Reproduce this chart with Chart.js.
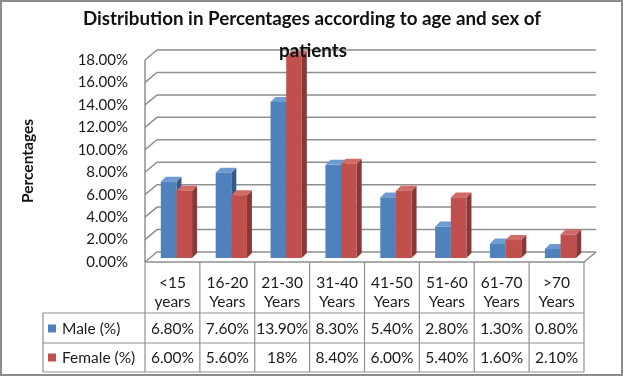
<!DOCTYPE html>
<html>
<head>
<meta charset="utf-8">
<script src="https://cdn.jsdelivr.net/npm/chart.js@4.4.1/dist/chart.umd.min.js"></script>
<style>
  html, body { margin: 0; padding: 0; background: #fff; }
  canvas { display: block; }
</style>
</head>
<body>
<canvas id="ageSexChart" width="623" height="376"></canvas>
<script>
var ageGroups = [['<15', 'years'], ['16-20', 'Years'], ['21-30', 'Years'], ['31-40', 'Years'], ['41-50', 'Years'], ['51-60', 'Years'], ['61-70', 'Years'], ['>70', 'Years']];
var maleValues = [6.8, 7.6, 13.9, 8.3, 5.4, 2.8, 1.3, 0.8];
var femaleValues = [6.0, 5.6, 18, 8.4, 6.0, 5.4, 1.6, 2.1];
var yTicks = [0, 2, 4, 6, 8, 10, 12, 14, 16, 18];
var titleLines = ['Distribution in Percentages according to age and sex of', 'patients'];
var seriesNames = ['Male (%)', 'Female (%)'];

var FONT = "Lato, 'Liberation Sans', sans-serif";
var GRID = '#8f8f8f';
var DEPTH_X = 12, DEPTH_Y = -10;   // wall depth
var BAR_SHIFT = 4, BAR_DEPTH = 5;  // bars sit inside the box

function pct(v) {
    // the source table writes the 18 as a plain "18%"
    if (v === 18) return '18%';
    return v.toFixed(2) + '%';
}

var threeD = {
    id: 'threeD',
    beforeDraw: function(chart) {
        var ctx = chart.ctx;
        ctx.save();
        ctx.fillStyle = '#fff';
        ctx.fillRect(0, 0, chart.width, chart.height);
        ctx.restore();
    },
    beforeDatasetsDraw: function(chart) {
        var ctx = chart.ctx, a = chart.chartArea, y = chart.scales.y;
        ctx.save();
        ctx.strokeStyle = GRID;
        ctx.lineWidth = 1.5;
        // back wall grid + left wall diagonals
        yTicks.forEach(function(t) {
            var py = y.getPixelForValue(t);
            ctx.beginPath();
            ctx.moveTo(a.left, py);
            ctx.lineTo(a.left + DEPTH_X, py + DEPTH_Y);
            ctx.lineTo(a.right + DEPTH_X, py + DEPTH_Y);
            ctx.stroke();
        });
        ctx.beginPath();
        ctx.moveTo(a.left, a.top);
        ctx.lineTo(a.left, a.bottom);
        ctx.stroke();
        // floor
        ctx.beginPath();
        ctx.moveTo(a.left, a.bottom);
        ctx.lineTo(a.right, a.bottom);
        ctx.lineTo(a.right + DEPTH_X, a.bottom + DEPTH_Y);
        ctx.stroke();

        var faces = [
            { front: '#4f81bd', side: '#37598a', top: '#6f9bd1' },
            { front: '#c0504d', side: '#8a3835', top: '#d06b68' }
        ];
        var n = chart.data.labels.length;
        for (var j = 0; j < n; j++) {
            for (var i = 0; i < chart.data.datasets.length; i++) {
                var el = chart.getDatasetMeta(i).data[j];
                var l = el.x - el.width / 2 + BAR_SHIFT;
                var r = el.x + el.width / 2 + BAR_SHIFT;
                var t = el.y - BAR_SHIFT;
                var b = el.base - BAR_SHIFT;
                var f = faces[i];
                ctx.fillStyle = f.side;
                ctx.beginPath();
                ctx.moveTo(r, t);
                ctx.lineTo(r + BAR_DEPTH, t - BAR_DEPTH);
                ctx.lineTo(r + BAR_DEPTH, b - BAR_DEPTH);
                ctx.lineTo(r, b);
                ctx.closePath();
                ctx.fill();
                ctx.fillStyle = f.top;
                ctx.beginPath();
                ctx.moveTo(l, t);
                ctx.lineTo(l + BAR_DEPTH, t - BAR_DEPTH);
                ctx.lineTo(r + BAR_DEPTH, t - BAR_DEPTH);
                ctx.lineTo(r, t);
                ctx.closePath();
                ctx.fill();
                ctx.fillStyle = f.front;
                ctx.fillRect(l, t, r - l, b - t);
            }
        }
        ctx.restore();
        return false;
    },
    afterDraw: function(chart) {
        var ctx = chart.ctx, a = chart.chartArea, x = chart.scales.x;
        var colW = (a.right - a.left) / ageGroups.length;
        var rowTop = a.bottom, rowMale = 313, rowFemale = 343, rowEnd = 372, legLeft = 43;
        ctx.save();
        ctx.strokeStyle = GRID;
        ctx.lineWidth = 1.2;
        ctx.beginPath();
        ctx.moveTo(legLeft, rowMale); ctx.lineTo(a.right, rowMale);
        ctx.moveTo(legLeft, rowFemale); ctx.lineTo(a.right, rowFemale);
        ctx.moveTo(legLeft, rowEnd); ctx.lineTo(a.right, rowEnd);
        ctx.moveTo(legLeft, rowMale); ctx.lineTo(legLeft, rowEnd);
        for (var k = 0; k <= ageGroups.length; k++) {
            var px = a.left + k * colW;
            ctx.moveTo(px, rowTop); ctx.lineTo(px, rowEnd);
        }
        ctx.stroke();

        ctx.fillStyle = '#1a1a1a';
        ctx.font = '15.5px ' + FONT;
        ctx.textAlign = 'center';
        ctx.textBaseline = 'middle';
        ageGroups.forEach(function(g, j) {
            var cx = x.getPixelForValue(j);
            ctx.fillText(g[0], cx, 283);
            ctx.fillText(g[1], cx, 302);
            ctx.fillText(pct(maleValues[j]), cx, 329);
            ctx.fillText(pct(femaleValues[j]), cx, 358);
        });
        ctx.textAlign = 'left';
        var sq = ['#4f81bd', '#c0504d'];
        [329, 358].forEach(function(cy, i) {
            ctx.fillStyle = sq[i];
            ctx.fillRect(48, cy - 4.5, 8, 8);
            ctx.fillStyle = '#1a1a1a';
            ctx.fillText(seriesNames[i], 62, cy);
        });

        // title on top of everything, as in the source
        ctx.textAlign = 'center';
        ctx.font = 'bold 18.8px ' + FONT;
        ctx.fillStyle = '#111';
        ctx.fillText(titleLines[0], 312, 19);
        ctx.fillText(titleLines[1], 313, 51);

        // outer frame
        ctx.strokeStyle = '#8c8c8c';
        ctx.lineWidth = 2;
        ctx.strokeRect(1, 1, chart.width - 2, chart.height - 2);
        ctx.restore();
    }
};

var ctx = document.getElementById('ageSexChart');
var myChart = new Chart(ctx, {
    type: 'bar',
    plugins: [threeD],
    data: {
        labels: ageGroups,
        datasets: [
            { label: seriesNames[0], data: maleValues, backgroundColor: '#4f81bd' },
            { label: seriesNames[1], data: femaleValues, backgroundColor: '#c0504d' }
        ]
    },
    options: {
        responsive: false,
        animation: false,
        layout: {
            padding: { top: 60, right: 39, bottom: 114, left: 0 }
        },
        plugins: {
            legend: { display: false },
            title: { display: false },
            tooltip: { enabled: false }
        },
        datasets: {
            bar: { categoryPercentage: 0.57, barPercentage: 1 }
        },
        scales: {
            x: { display: false },
            y: {
                min: 0,
                max: 18,
                afterFit: function(scale) { scale.width = 145; },
                grid: { display: false, drawTicks: false },
                border: { display: false },
                ticks: {
                    stepSize: 2,
                    padding: 17,
                    color: '#1a1a1a',
                    font: { family: FONT, size: 15 },
                    callback: function(v) { return v.toFixed(2) + '%'; }
                },
                title: {
                    display: true,
                    text: 'Percentages',
                    color: '#111',
                    padding: { top: 19, bottom: 0 },
                    font: { family: FONT, size: 15.5, weight: 'bold' }
                }
            }
        }
    }
});
</script>
</body>
</html>
